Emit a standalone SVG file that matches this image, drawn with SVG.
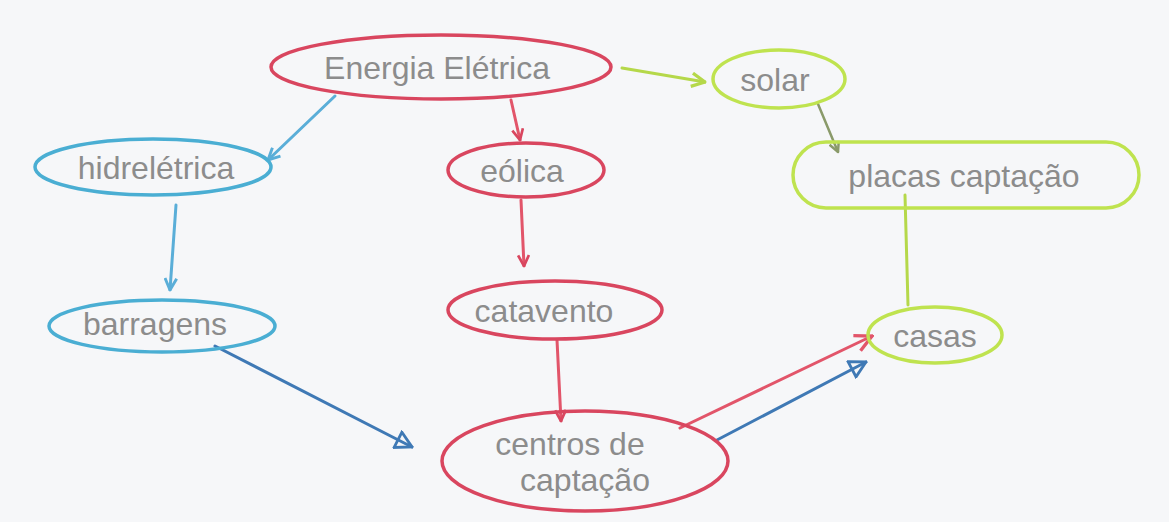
<svg xmlns="http://www.w3.org/2000/svg" width="1169" height="522" viewBox="0 0 1169 522">
<style>
.t{font-family:"Liberation Sans","DejaVu Sans",sans-serif;font-size:32px;fill:#8c8c8c;text-anchor:middle;dominant-baseline:central}
.red{fill:none;stroke:#d9465f;stroke-width:3.5}
.blue{fill:none;stroke:#4aaed3;stroke-width:3.5}
.green{fill:none;stroke:#bfe34f;stroke-width:3.5}
.cr{fill:none;stroke:#e2556a;stroke-width:3;stroke-linecap:round}
.cb{fill:none;stroke:#3f79b5;stroke-width:3;stroke-linecap:round}
.cl{fill:none;stroke:#5aaed8;stroke-width:3;stroke-linecap:round}
.cg{fill:none;stroke:#b5d84a;stroke-width:3;stroke-linecap:round}
.cgr{fill:none;stroke:#8a9a6a;stroke-width:2.5;stroke-linecap:round}
</style>
<defs>
<marker id="vr" viewBox="0 0 12 12" refX="11" refY="6" markerWidth="13" markerHeight="13" markerUnits="userSpaceOnUse" orient="auto"><path d="M1,1 L11,6 L1,11" fill="none" stroke="#d9465f" stroke-width="2.5"/></marker>
<marker id="vr2" viewBox="0 0 12 12" refX="11" refY="6" markerWidth="20" markerHeight="20" markerUnits="userSpaceOnUse" orient="auto"><path d="M1,1 L11,6 L1,11" fill="none" stroke="#e2556a" stroke-width="2"/></marker>
<marker id="vl" viewBox="0 0 12 12" refX="11" refY="6" markerWidth="14" markerHeight="14" markerUnits="userSpaceOnUse" orient="auto"><path d="M1,1 L11,6 L1,11" fill="none" stroke="#5aaed8" stroke-width="2.5"/></marker>
<marker id="vg" viewBox="0 0 12 12" refX="11" refY="6" markerWidth="16" markerHeight="16" markerUnits="userSpaceOnUse" orient="auto"><path d="M1,1 L11,6 L1,11" fill="none" stroke="#b5d84a" stroke-width="2.5"/></marker>
<marker id="vgr" viewBox="0 0 12 12" refX="11" refY="6" markerWidth="12" markerHeight="12" markerUnits="userSpaceOnUse" orient="auto"><path d="M1,1 L11,6 L1,11" fill="none" stroke="#8a9a6a" stroke-width="2.5"/></marker>
<marker id="tb" viewBox="0 0 14 14" refX="13" refY="7" markerWidth="20" markerHeight="20" markerUnits="userSpaceOnUse" orient="auto"><path d="M2,1 L13,7 L2,13 Z" fill="none" stroke="#3f79b5" stroke-width="2"/></marker>
</defs>
<rect width="1169" height="522" fill="#f6f7f9"/>
<g id="connectors">
<path class="cl" d="M335,96 L268,160" marker-end="url(#vl)"/>
<path class="cr" d="M511,100 L520,140" marker-end="url(#vr)"/>
<path class="cg" d="M622,68 L705,82" marker-end="url(#vg)"/>
<path class="cgr" d="M818,104 L838,152" marker-end="url(#vgr)"/>
<path class="cl" d="M176,205 L170,290" marker-end="url(#vl)"/>
<path class="cr" d="M521,200 L524,266" marker-end="url(#vr)"/>
<path class="cr" d="M557,340 L561,421" marker-end="url(#vr)"/>
<path class="cg" d="M905,195 L908,305"/>
<path class="cb" d="M215,346 L412,447" marker-end="url(#tb)"/>
<path class="cr" d="M680,428 L872,336" marker-end="url(#vr2)"/>
<path class="cb" d="M717,440 L866,362" marker-end="url(#tb)"/>
</g>
<g id="energia"><ellipse class="red" cx="441" cy="67" rx="170" ry="32"/><text class="t" x="437" y="68">Energia Elétrica</text></g>
<g id="solar"><ellipse class="green" cx="779" cy="79" rx="66" ry="29"/><text class="t" x="775" y="80">solar</text></g>
<g id="hidreletrica"><ellipse class="blue" cx="153" cy="167" rx="118" ry="28"/><text class="t" x="156" y="168">hidrelétrica</text></g>
<g id="eolica"><ellipse class="red" cx="526" cy="170" rx="78" ry="27"/><text class="t" x="522" y="171">eólica</text></g>
<g id="placas"><rect class="green" x="793" y="142" width="346" height="66" rx="33"/><text class="t" x="964" y="176">placas captação</text></g>
<g id="barragens"><ellipse class="blue" cx="162" cy="326" rx="113" ry="26"/><text class="t" x="155" y="324">barragens</text></g>
<g id="catavento"><ellipse class="red" cx="555" cy="310" rx="107" ry="29"/><text class="t" x="544" y="311">catavento</text></g>
<g id="casas"><ellipse class="green" cx="935" cy="335" rx="67" ry="28"/><text class="t" x="935" y="336">casas</text></g>
<g id="centros"><ellipse class="red" cx="585" cy="461" rx="143" ry="50"/><text class="t" x="570" y="444">centros de</text><text class="t" x="585" y="480">captação</text></g>
</svg>
